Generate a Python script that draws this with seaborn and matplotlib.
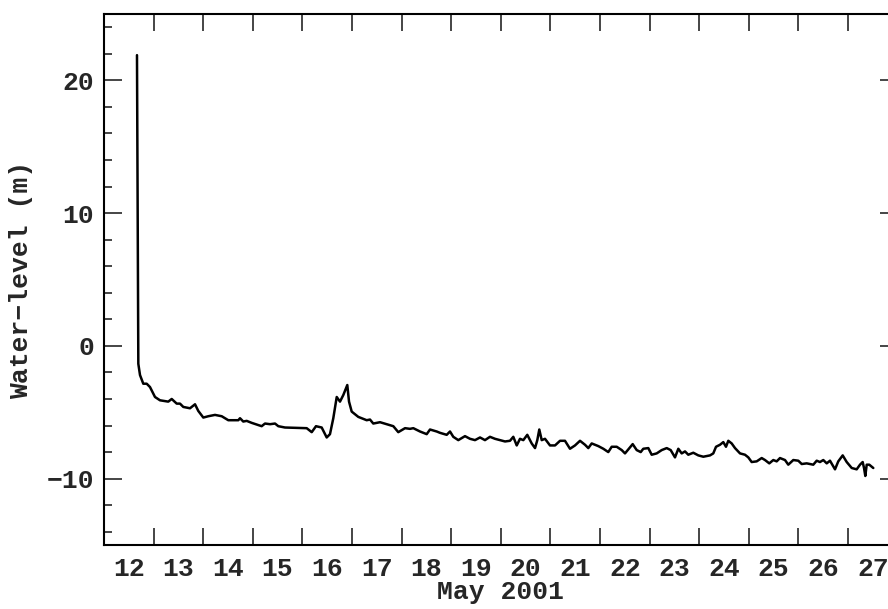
import matplotlib
matplotlib.use("Agg")
import matplotlib.pyplot as plt
import seaborn as sns
import pandas as pd
import numpy as np
from matplotlib.ticker import MultipleLocator, FixedLocator, NullFormatter, FixedFormatter

# ---- data (day of May 2001, water level in m) ----
day = [12.665, 12.692, 12.726, 12.792, 12.861, 12.927, 13.028, 13.129, 13.296, 13.365,
       13.466, 13.532, 13.599, 13.734, 13.835, 13.901, 14.002, 14.103, 14.238, 14.373,
       14.506, 14.708, 14.742, 14.808, 14.877, 14.978, 15.179, 15.246, 15.347, 15.448,
       15.514, 15.649, 16.087, 16.188, 16.274, 16.389, 16.490, 16.556, 16.623, 16.692,
       16.758, 16.825, 16.905, 16.940, 16.994, 17.127, 17.296, 17.363, 17.429, 17.565,
       17.700, 17.833, 17.933, 18.069, 18.169, 18.236, 18.371, 18.506, 18.573, 18.708,
       18.774, 18.909, 18.976, 19.042, 19.143, 19.278, 19.379, 19.480, 19.581, 19.681,
       19.782, 19.883, 19.984, 20.085, 20.185, 20.252, 20.321, 20.387, 20.454, 20.534,
       20.623, 20.690, 20.736, 20.776, 20.825, 20.891, 20.992, 21.093, 21.194, 21.294,
       21.395, 21.496, 21.597, 21.698, 21.764, 21.833, 21.899, 21.966, 22.067, 22.167,
       22.236, 22.337, 22.438, 22.504, 22.591, 22.659, 22.740, 22.821, 22.873, 22.974,
       23.042, 23.143, 23.244, 23.345, 23.425, 23.512, 23.579, 23.647, 23.714, 23.780,
       23.881, 23.982, 24.083, 24.218, 24.284, 24.339, 24.419, 24.486, 24.540, 24.587,
       24.655, 24.722, 24.823, 24.923, 24.990, 25.058, 25.159, 25.260, 25.327, 25.413,
       25.494, 25.562, 25.629, 25.730, 25.796, 25.897, 25.998, 26.067, 26.167, 26.300,
       26.369, 26.435, 26.502, 26.571, 26.637, 26.738, 26.804, 26.893, 26.974, 27.075,
       27.175, 27.242, 27.296, 27.323, 27.349, 27.377, 27.429, 27.510]
level = [21.9, -1.35, -2.2, -2.85, -2.85, -3.1, -3.85, -4.1, -4.2, -4.0,
         -4.35, -4.35, -4.6, -4.7, -4.4, -4.9, -5.4, -5.3, -5.2, -5.3,
         -5.6, -5.6, -5.45, -5.7, -5.65, -5.8, -6.05, -5.85, -5.9, -5.85,
         -6.05, -6.15, -6.2, -6.5, -6.05, -6.15, -6.9, -6.65, -5.45, -3.85,
         -4.2, -3.7, -2.95, -4.2, -4.95, -5.35, -5.6, -5.55, -5.85, -5.75,
         -5.9, -6.05, -6.5, -6.2, -6.25, -6.2, -6.45, -6.65, -6.3, -6.45,
         -6.55, -6.7, -6.45, -6.85, -7.1, -6.8, -7.0, -7.1, -6.9, -7.1,
         -6.85, -7.0, -7.1, -7.2, -7.15, -6.85, -7.5, -7.0, -7.1, -6.7,
         -7.35, -7.7, -7.1, -6.3, -7.1, -7.0, -7.5, -7.5, -7.15, -7.15,
         -7.75, -7.5, -7.15, -7.45, -7.7, -7.35, -7.45, -7.55, -7.75, -8.0,
         -7.6, -7.6, -7.85, -8.1, -7.7, -7.4, -7.85, -8.0, -7.75, -7.7,
         -8.2, -8.1, -7.85, -7.7, -7.85, -8.4, -7.75, -8.1, -7.95, -8.2,
         -8.05, -8.25, -8.35, -8.25, -8.1, -7.6, -7.45, -7.25, -7.6, -7.15,
         -7.35, -7.7, -8.1, -8.2, -8.4, -8.75, -8.7, -8.45, -8.6, -8.85,
         -8.6, -8.7, -8.45, -8.6, -8.95, -8.6, -8.65, -8.9, -8.85, -8.95,
         -8.65, -8.75, -8.6, -8.85, -8.65, -9.3, -8.7, -8.25, -8.75, -9.2,
         -9.3, -8.95, -8.75, -9.2, -9.8, -8.95, -8.95, -9.2]

x_major_ticks = list(range(13, 28))
x_label_pos = [d + 0.5 for d in range(12, 28)]
x_labels = [str(d) for d in range(12, 28)]
y_major_ticks = [-10, 0, 10, 20]

df = pd.DataFrame({"day": day, "level": level})

sns.set_style("ticks")
plt.rcParams["font.family"] = ["Liberation Mono", "DejaVu Sans Mono"]
plt.rcParams["font.weight"] = "bold"

fig = plt.figure(figsize=(8.88, 6.09), dpi=100)
ax = fig.add_axes([104 / 888, 1 - 545 / 609, 793.6 / 888, 531 / 609])

sns.lineplot(data=df, x="day", y="level", color="black", linewidth=1.8, ax=ax)

ax.set_xlim(12, 28)
ax.set_ylim(-15, 25)

# x: tick marks at day boundaries, labels centred on days
ax.xaxis.set_major_locator(FixedLocator(x_major_ticks))
ax.xaxis.set_major_formatter(NullFormatter())
ax.xaxis.set_minor_locator(FixedLocator(x_label_pos))
ax.xaxis.set_minor_formatter(FixedFormatter(x_labels))
ax.tick_params(axis="x", which="major", direction="in", length=12.5, width=1.2,
               top=True, bottom=True)
ax.tick_params(axis="x", which="minor", length=0, labelsize=19, pad=9, top=False)

ax.yaxis.set_major_locator(FixedLocator(y_major_ticks))
ax.yaxis.set_minor_locator(MultipleLocator(2))
ax.tick_params(axis="y", which="major", direction="in", length=13, width=1.2,
               left=True, right=True, labelsize=19, pad=7)
ax.tick_params(axis="y", which="minor", direction="in", length=6, width=1.2,
               left=True, right=True)

for s in ax.spines.values():
    s.set_linewidth(1.5)
    s.set_color("black")

ax.set_xlabel("May 2001", fontsize=19, fontweight="bold", labelpad=-1)
ax.set_ylabel("Water\u2212level (m)", fontsize=19, fontweight="bold", labelpad=10)

fig.savefig("out.png", dpi=100, facecolor="white")
